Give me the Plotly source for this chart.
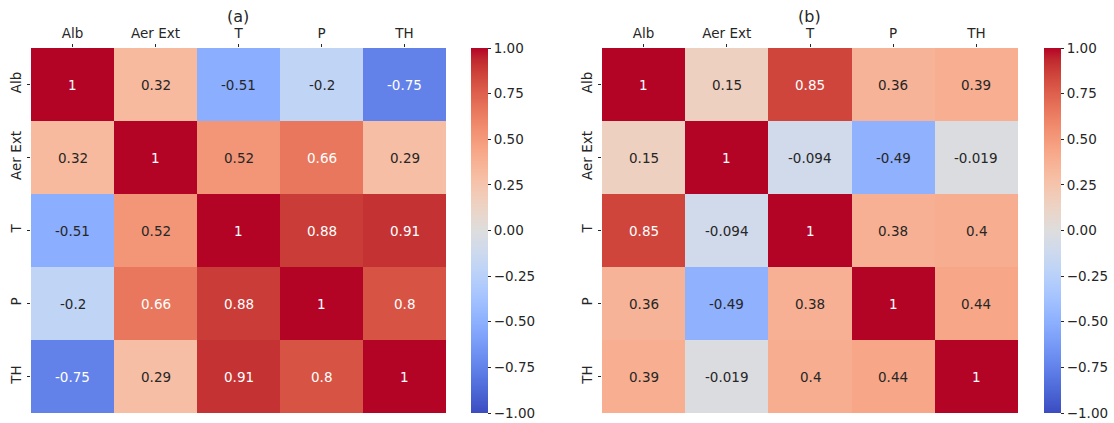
import plotly.graph_objects as go

labels = ["Alb", "Aer Ext", "T", "P", "TH"]

corr_a = [
    [1, 0.32, -0.51, -0.2, -0.75],
    [0.32, 1, 0.52, 0.66, 0.29],
    [-0.51, 0.52, 1, 0.88, 0.91],
    [-0.2, 0.66, 0.88, 1, 0.8],
    [-0.75, 0.29, 0.91, 0.8, 1],
]
corr_b = [
    [1, 0.15, 0.85, 0.36, 0.39],
    [0.15, 1, -0.094, -0.49, -0.019],
    [0.85, -0.094, 1, 0.38, 0.4],
    [0.36, -0.49, 0.38, 1, 0.44],
    [0.39, -0.019, 0.4, 0.44, 1],
]
titles = ["(a)", "(b)"]
cbar_ticks = [-1.0, -0.75, -0.5, -0.25, 0.0, 0.25, 0.5, 0.75, 1.0]

# matplotlib "coolwarm" (Moreland) anchor colours
cw = [
    (59, 76, 192), (68, 90, 204), (77, 104, 215), (87, 117, 225), (98, 130, 234),
    (108, 142, 241), (119, 154, 247), (130, 165, 251), (141, 176, 254), (152, 185, 255),
    (163, 194, 255), (174, 201, 253), (184, 208, 249), (194, 213, 244), (204, 217, 238),
    (213, 219, 230), (221, 221, 221), (229, 216, 209), (236, 211, 197), (241, 204, 185),
    (245, 196, 173), (247, 187, 160), (247, 177, 148), (247, 166, 135), (244, 154, 123),
    (241, 141, 111), (236, 127, 99), (229, 112, 88), (222, 96, 77), (213, 80, 66),
    (203, 62, 56), (192, 40, 47), (180, 4, 38),
]
n = len(cw) - 1
colorscale = [[i / n, "rgb(%d,%d,%d)" % c] for i, c in enumerate(cw)]


def cmap(v):
    t = (v + 1) / 2 * n
    i = min(int(t), n - 1)
    f = t - i
    return [cw[i][k] + (cw[i + 1][k] - cw[i][k]) * f for k in range(3)]


def text_color(v):
    lin = []
    for c in cmap(v):
        c = c / 255
        lin.append(c / 12.92 if c <= 0.03928 else ((c + 0.055) / 1.055) ** 2.4)
    lum = 0.2126 * lin[0] + 0.7152 * lin[1] + 0.0722 * lin[2]
    return "#262626" if lum > 0.408 else "white"


W, H = 1114, 423
FONT = "DejaVu Sans"
x_doms = [(31 / W, 446 / W), (602 / W, 1018 / W)]
cb_x = [471 / W, 1044 / W]
y_dom = ((H - 413) / H, (H - 48) / H)

fig = go.Figure()
annotations = []
for k, data in enumerate([corr_a, corr_b]):
    xa = "x" if k == 0 else "x2"
    ya = "y" if k == 0 else "y2"
    fig.add_trace(go.Heatmap(
        z=data, x=labels, y=labels, xaxis=xa, yaxis=ya,
        colorscale=colorscale, zmin=-1, zmax=1,
        colorbar=dict(
            x=cb_x[k], xanchor="left", xref="paper", xpad=0, ypad=0,
            y=(y_dom[0] + y_dom[1]) / 2, yanchor="middle", yref="paper",
            len=365, lenmode="pixels", thickness=17,
            outlinewidth=0, tickvals=cbar_ticks, tickformat=".2f",
            ticks="outside", ticklen=3.5, tickwidth=0.8, tickcolor="#262626",
            tickfont=dict(family=FONT, size=13.5, color="#262626"),
        ),
        hoverinfo="z",
    ))
    for r, row_lab in enumerate(labels):
        for c, col_lab in enumerate(labels):
            v = data[r][c]
            annotations.append(dict(
                x=col_lab, y=row_lab, xref=xa, yref=ya,
                text=format(v, ".2g"), showarrow=False,
                font=dict(family=FONT, size=13.5, color=text_color(v)),
            ))
    annotations.append(dict(
        x=(x_doms[k][0] + x_doms[k][1]) / 2, y=(H - 17) / H, xref="paper", yref="paper",
        text=titles[k], showarrow=False, xanchor="center", yanchor="middle",
        borderpad=0, font=dict(family=FONT, size=16, color="#262626"),
    ))

axis_common = dict(
    ticks="outside", ticklen=3.5, tickwidth=0.8, tickcolor="#262626",
    showgrid=False, zeroline=False, showline=False, automargin=False,
    tickfont=dict(family=FONT, size=13.5, color="#262626"),
)
fig.update_layout(
    width=W, height=H,
    margin=dict(l=0, r=0, t=0, b=0, autoexpand=False),
    paper_bgcolor="white", plot_bgcolor="white",
    annotations=annotations,
    xaxis=dict(domain=x_doms[0], anchor="y", side="top", **axis_common),
    yaxis=dict(domain=y_dom, anchor="x", autorange="reversed", tickangle=-90, **axis_common),
    xaxis2=dict(domain=x_doms[1], anchor="y2", side="top", **axis_common),
    yaxis2=dict(domain=y_dom, anchor="x2", autorange="reversed", tickangle=-90, **axis_common),
)

fig.write_html(
    "out.html",
    config={"displayModeBar": False},
    post_script="document.body.style.margin='0';document.body.style.padding='0';",
)
